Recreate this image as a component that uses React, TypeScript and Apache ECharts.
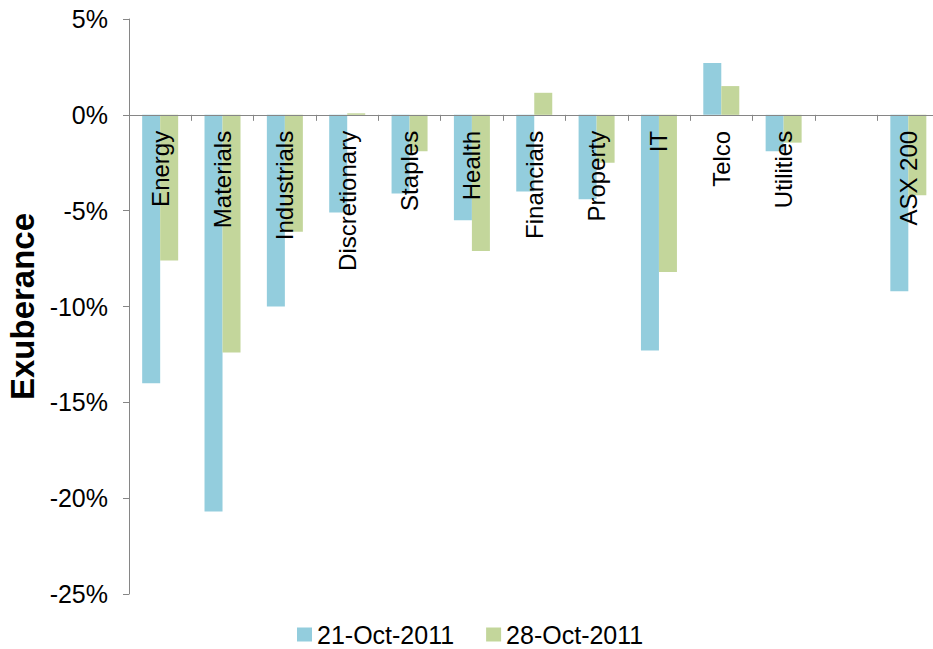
import React, { useEffect, useRef } from "react";
import * as echarts from "echarts";

const categories = [
  "Energy",
  "Materials",
  "Industrials",
  "Discretionary",
  "Staples",
  "Health",
  "Financials",
  "Property",
  "IT",
  "Telco",
  "Utilities",
  "",
  "ASX 200",
];
const oct21 = [-14.0, -20.7, -10.0, -5.1, -4.1, -5.5, -4.0, -4.4, -12.3, 2.7, -1.9, null, -9.2];
const oct28 = [-7.6, -12.4, -6.1, 0.08, -1.9, -7.1, 1.15, -2.5, -8.2, 1.5, -1.45, null, -4.2];
const seriesNames = ["21-Oct-2011", "28-Oct-2011"];
const yTicks = { min: -25, max: 5, interval: 5 };

const FONT = "'Liberation Sans', Arial, sans-serif";
const AXIS_COLOR = "#868686";

const GRID_TOP = 19;
const GRID_HEIGHT = 575;
// distance from grid bottom to the zero line, so the category axis sits on 0%
const ZERO_OFFSET = (GRID_HEIGHT * (0 - yTicks.min)) / (yTicks.max - yTicks.min);

export default function App() {
  const ref = useRef<HTMLDivElement>(null);
  useEffect(() => {
    if (!ref.current) return;
    const chart = echarts.init(ref.current, null, { renderer: "svg" });
    chart.setOption({
      animation: false,
      textStyle: { fontFamily: FONT },
      grid: {
        left: 129,
        top: GRID_TOP,
        height: GRID_HEIGHT,
        width: 810.5,
        containLabel: false,
        outerBoundsMode: "none",
      },
      legend: {
        left: 297,
        top: 622,
        padding: 0,
        itemWidth: 15,
        itemHeight: 14,
        itemGap: 32,
        icon: "rect",
        textStyle: { fontSize: 25, color: "#000", fontFamily: FONT },
        data: seriesNames,
      },
      xAxis: {
        type: "category",
        data: categories,
        position: "bottom",
        offset: -ZERO_OFFSET,
        axisLine: { onZero: false, lineStyle: { color: AXIS_COLOR, width: 1 } },
        axisTick: { show: true, length: 6, lineStyle: { color: AXIS_COLOR } },
        axisLabel: {
          rotate: 90,
          interval: 0,
          margin: 16,
          fontSize: 24,
          color: "#000",
          fontFamily: FONT,
        },
        splitLine: { show: false },
        z: 5,
      },
      yAxis: {
        type: "value",
        min: yTicks.min,
        max: yTicks.max,
        interval: yTicks.interval,
        name: "Exuberance",
        nameLocation: "middle",
        nameGap: 88,
        nameTextStyle: { fontSize: 33, fontWeight: "bold", color: "#000", fontFamily: FONT },
        axisLine: { show: true, lineStyle: { color: AXIS_COLOR, width: 1 } },
        axisTick: { show: true, length: 6, lineStyle: { color: AXIS_COLOR } },
        axisLabel: {
          formatter: (v: number) => `${v}%`,
          fontSize: 25,
          margin: 21,
          color: "#000",
          fontFamily: FONT,
        },
        splitLine: { show: false },
      },
      series: [
        {
          name: seriesNames[0],
          type: "bar",
          data: oct21,
          barWidth: 18,
          barGap: "0%",
          itemStyle: { color: "#93CDDD" },
        },
        {
          name: seriesNames[1],
          type: "bar",
          data: oct28,
          barWidth: 18,
          barGap: "0%",
          itemStyle: { color: "#C3D69B" },
        },
      ],
    });
    return () => chart.dispose();
  }, []);
  return (
    <div
      ref={ref}
      style={{ position: "fixed", left: 0, top: 0, width: 933, height: 649, background: "#fff" }}
    />
  );
}
